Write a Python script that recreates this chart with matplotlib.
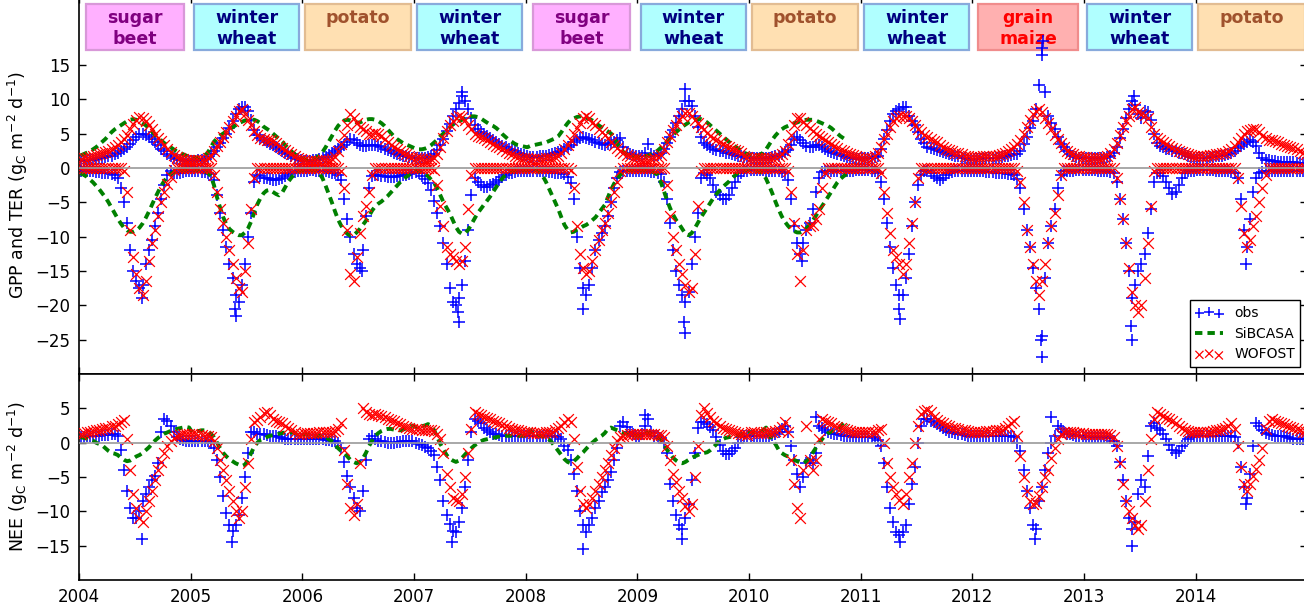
import numpy as np
import matplotlib
matplotlib.use('Agg')
import matplotlib.pyplot as plt
from matplotlib.patches import Rectangle

# crop grown each year (label shown in a box above the season)
years = list(range(2004, 2015))
crops = ['sugar\nbeet', 'winter\nwheat', 'potato', 'winter\nwheat', 'sugar\nbeet',
         'winter\nwheat', 'potato', 'winter\nwheat', 'grain\nmaize', 'winter\nwheat', 'potato']

# fluxes per dekad (3 per month, one row per year), gC m-2 d-1
obs_ter = [
    [1.0, 1.0, 1.1,  1.2, 1.2, 1.3,  1.4, 1.5, 1.6,  1.7, 1.8, 2.0,  2.2, 2.4, 2.7,  3.0, 3.5, 4.0,  4.5, 5.0, 5.0,  4.8, 4.5, 4.2,  3.8, 3.3, 2.8,  2.4, 2.0, 1.7,  1.5, 1.3, 1.2,  1.1, 1.0, 1.0],
    [1.0, 1.0, 1.1,  1.2, 1.3, 1.6,  2.0, 2.5, 3.0,  3.6, 4.3, 5.0,  5.8, 6.8, 7.8,  8.5, 8.8, 8.8,  8.3, 7.0, 5.5,  4.8, 4.3, 4.0,  3.8, 3.5, 3.3,  3.0, 2.7, 2.5,  2.2, 2.0, 1.7,  1.5, 1.3, 1.2],
    [1.0, 1.0, 1.0,  1.1, 1.2, 1.3,  1.4, 1.6, 1.9,  2.2, 2.5, 2.7,  3.0, 3.3, 3.7,  4.2, 4.0, 3.6,  3.3, 3.2, 3.2,  3.3, 3.4, 3.3,  3.2, 3.0, 2.8,  2.6, 2.4, 2.2,  2.0, 1.9, 1.8,  1.7, 1.6, 1.5],
    [1.5, 1.5, 1.5,  1.5, 1.6, 1.7,  2.0, 2.6, 3.3,  4.2, 5.3, 6.4,  7.5, 8.5, 9.5,  10.5, 9.8, 8.5,  7.3, 6.3, 5.6,  5.2, 4.9, 4.6,  4.4, 4.1, 3.8,  3.5, 3.2, 3.0,  2.8, 2.6, 2.4,  2.2, 2.0, 1.9],
    [1.7, 1.6, 1.6,  1.6, 1.7, 1.7,  1.8, 1.9, 2.0,  2.1, 2.3, 2.5,  2.8, 3.1, 3.4,  3.7, 4.0, 4.3,  4.5, 4.4, 4.2,  4.0, 3.8, 3.6,  3.5, 3.4, 3.5,  3.6, 3.8, 4.0,  4.3, 3.0, 2.2,  2.0, 1.9, 1.8],
    [1.8, 1.8, 2.2,  3.5, 2.0, 1.8,  1.9, 2.2, 2.8,  3.6, 4.5, 5.5,  6.5, 7.5, 8.5,  9.8, 9.8, 9.0,  7.5, 6.0, 4.5,  3.6, 3.3, 3.0,  2.8, 2.6, 2.5,  2.4, 2.2, 2.1,  2.0, 1.9, 1.8,  1.7, 1.6, 1.5],
    [1.5, 1.5, 1.4,  1.4, 1.4, 1.5,  1.5, 1.6, 1.7,  1.8, 2.0, 2.3,  2.6, 3.4, 4.2,  4.5, 4.1, 3.6,  3.2, 3.0, 3.1,  3.4, 3.4, 3.1,  2.8, 2.5, 2.3,  2.1, 2.0, 1.9,  1.8, 1.6, 1.5,  1.4, 1.3, 1.3],
    [1.4, 1.4, 1.5,  1.5, 1.6, 1.8,  2.8, 4.2, 5.5,  6.8, 7.8, 8.3,  8.6, 8.9, 8.8,  7.6, 6.8, 6.2,  5.2, 4.2, 3.6,  3.1, 2.9, 2.7,  2.6, 2.5, 2.3,  2.2, 2.0, 1.9,  1.8, 1.7, 1.5,  1.4, 1.3, 1.2],
    [1.3, 1.3, 1.3,  1.4, 1.4, 1.4,  1.5, 1.5, 1.5,  1.6, 1.7, 1.8,  1.9, 2.0, 2.0,  2.4, 3.5, 4.5,  5.8, 6.8, 8.5,  12.0, 17.5, 11.0,  7.5, 6.5, 5.7,  4.5, 3.5, 3.0,  2.5, 2.0, 1.8,  1.6, 1.5, 1.5],
    [1.4, 1.4, 1.4,  1.4, 1.5, 1.5,  1.5, 1.6, 1.8,  2.2, 3.0, 4.3,  5.6, 7.2, 8.6,  9.8, 9.2, 7.8,  7.3, 8.3, 8.2,  7.0, 5.0, 3.6,  3.2, 3.0, 2.8,  2.7, 2.5, 2.4,  2.2, 2.1, 2.0,  1.8, 1.6, 1.5],
    [1.5, 1.5, 1.5,  1.5, 1.6, 1.6,  1.7, 1.7, 1.8,  1.9, 2.0, 2.2,  2.5, 2.9, 3.2,  3.5, 3.8, 4.0,  3.8, 3.2, 2.2,  1.5, 1.2, 1.1,  1.0, 1.0, 0.9,  0.9, 0.9, 0.8,  0.8, 0.8, 0.7,  0.7, 0.7, 0.7],
]
obs_gpp = [
    [-0.5, -0.5, -0.5,  -0.4, -0.5, -0.6,  -0.6, -0.7, -0.8,  -0.8, -0.9, -1.0,  -1.5, -3.0, -5.0,  -8.0, -12.0, -15.0,  -16.5, -17.5, -17.0,  -14.0, -12.0, -10.5,  -8.5, -6.5, -4.5,  -2.5, -1.0, -0.5,  -0.8, -0.8, -0.7,  -0.6, -0.5, -0.5],
    [-0.5, -0.5, -0.5,  -0.6, -0.6, -0.7,  -0.9, -1.8, -4.0,  -6.5, -9.0, -11.5,  -14.0, -16.0, -18.5,  -19.5, -17.0, -14.0,  -10.0, -6.5, -2.0,  -1.0, -1.2, -1.5,  -1.5, -1.6, -1.8,  -1.8, -1.6, -1.5,  -1.2, -0.9, -0.7,  -0.6, -0.5, -0.5],
    [-0.4, -0.4, -0.3,  -0.3, -0.4, -0.4,  -0.5, -0.5, -0.6,  -0.7, -0.8, -1.0,  -1.8, -4.5, -7.5,  -10.0, -12.5, -14.0,  -14.5, -12.0, -7.0,  -3.0, -1.2, -1.0,  -1.1, -1.2, -1.2,  -1.3, -1.3, -1.3,  -1.2, -1.2, -1.1,  -1.0, -0.9, -0.8],
    [-0.6, -0.8, -1.2,  -1.6, -2.2, -3.2,  -4.8, -6.5, -8.5,  -11.0, -14.0, -17.5,  -19.5, -20.0, -19.0,  -17.0, -13.5, -9.0,  -4.0, -1.5, -2.0,  -2.5, -2.8, -2.8,  -2.5, -2.3, -2.0,  -1.7, -1.3, -1.0,  -0.8, -0.7, -0.6,  -0.5, -0.5, -0.5],
    [-0.4, -0.4, -0.4,  -0.4, -0.5, -0.5,  -0.5, -0.6, -0.6,  -0.7, -0.7, -0.8,  -0.9, -1.3, -2.2,  -4.5, -10.0, -14.5,  -17.5, -18.5, -17.0,  -14.5, -12.0, -10.5,  -9.5, -8.5, -7.0,  -5.0, -3.0, -1.5,  -0.6, -0.5, -0.5,  -0.5, -0.5, -0.5],
    [-0.5, -0.5, -0.5,  -0.5, -0.6, -0.6,  -0.7, -0.9, -2.0,  -4.5, -8.0, -12.0,  -15.0, -17.0, -18.5,  -19.5, -18.0, -14.0,  -10.0, -6.5, -1.5,  -0.8, -1.0, -1.5,  -2.5, -3.5, -4.0,  -4.5, -4.5, -4.0,  -3.0, -2.0, -1.2,  -0.7, -0.5, -0.5],
    [-0.3, -0.3, -0.3,  -0.3, -0.3, -0.4,  -0.4, -0.4, -0.5,  -0.5, -0.6, -0.8,  -1.8, -4.5, -8.5,  -11.0, -12.5, -11.0,  -9.0, -8.0, -6.0,  -3.5, -1.5, -0.6,  -0.5, -0.5, -0.5,  -0.5, -0.5, -0.5,  -0.4, -0.4, -0.4,  -0.4, -0.3, -0.3],
    [-0.3, -0.3, -0.3,  -0.4, -0.5, -0.8,  -2.0, -4.5, -8.0,  -11.5, -14.5, -17.0,  -18.5, -18.5, -16.0,  -12.5, -8.5, -5.0,  -2.5, -1.0, -0.5,  -0.5, -0.8, -1.2,  -1.5, -1.8, -1.5,  -1.0, -0.8, -0.6,  -0.5, -0.5, -0.4,  -0.4, -0.4, -0.4],
    [-0.5, -0.5, -0.5,  -0.5, -0.6, -0.6,  -0.6, -0.7, -0.7,  -0.8, -0.8, -0.9,  -0.9, -1.0, -1.6,  -3.0, -6.0, -9.0,  -11.5, -14.5, -17.5,  -20.5, -24.5, -16.0,  -11.0, -8.5, -6.0,  -3.0, -1.0, -0.5,  -0.4, -0.4, -0.4,  -0.3, -0.3, -0.3],
    [-0.3, -0.3, -0.3,  -0.3, -0.4, -0.4,  -0.4, -0.5, -0.6,  -0.8, -2.0, -4.5,  -7.5, -11.0, -15.0,  -19.0, -17.0, -15.0,  -14.0, -12.5, -9.5,  -6.0, -2.0, -0.7,  -0.8, -1.2, -2.0,  -3.0, -3.8, -3.5,  -2.5, -1.5, -0.8,  -0.5, -0.4, -0.4],
    [-0.3, -0.3, -0.3,  -0.3, -0.3, -0.3,  -0.4, -0.4, -0.4,  -0.5, -0.5, -0.6,  -0.8, -1.5, -4.5,  -9.0, -11.5, -7.5,  -3.5, -1.5, -0.8,  -0.6, -0.5, -0.5,  -0.5, -0.5, -0.5,  -0.5, -0.5, -0.5,  -0.5, -0.5, -0.5,  -0.5, -0.5, -0.5],
]
wof_ter = [
    [1.3, 1.4, 1.5,  1.6, 1.7, 1.9,  2.0, 2.2, 2.3,  2.5, 2.7, 3.0,  3.3, 3.7, 4.2,  4.8, 5.6, 6.4,  7.0, 7.4, 7.3,  6.8, 6.2, 5.6,  5.0, 4.4, 3.9,  3.3, 2.8, 2.3,  1.9, 1.6, 1.4,  1.3, 1.2, 1.2],
    [1.2, 1.1, 1.1,  1.1, 1.2, 1.4,  1.8, 2.5, 3.2,  3.8, 4.5, 5.2,  6.0, 6.8, 7.6,  8.3, 8.5, 7.8,  7.0, 6.2, 5.4,  4.8, 4.4, 4.2,  4.0, 4.1, 3.9,  3.6, 3.2, 2.9,  2.6, 2.3, 2.0,  1.7, 1.5, 1.3],
    [1.1, 1.0, 1.0,  1.0, 1.0, 1.0,  1.1, 1.1, 1.2,  1.3, 1.6, 2.5,  3.5, 4.8, 6.3,  7.8, 7.3, 6.5,  6.0, 5.6, 5.3,  5.0, 5.0, 5.1,  5.0, 4.6, 4.2,  3.8, 3.4, 3.1,  2.8, 2.5, 2.2,  2.0, 1.8, 1.6],
    [1.5, 1.4, 1.3,  1.2, 1.2, 1.3,  1.5, 2.0, 3.0,  4.3, 5.4, 6.2,  6.8, 7.2, 7.5,  7.4, 7.0, 6.3,  5.6, 5.0, 4.7,  4.5, 4.3, 4.0,  3.8, 3.5, 3.2,  3.0, 2.7, 2.4,  2.2, 2.0, 1.8,  1.6, 1.5, 1.4],
    [1.4, 1.3, 1.3,  1.3, 1.3, 1.3,  1.4, 1.4, 1.5,  1.6, 1.8, 2.2,  2.8, 3.4, 4.1,  4.9, 5.8, 6.6,  7.2, 7.5, 7.2,  6.6, 6.2, 5.7,  5.2, 4.8, 4.3,  3.8, 3.4, 2.9,  2.5, 2.1, 1.9,  1.7, 1.5, 1.4],
    [1.3, 1.2, 1.2,  1.2, 1.3, 1.4,  1.6, 1.9, 2.8,  3.8, 4.6, 5.5,  6.2, 7.0, 7.6,  8.0, 8.0, 7.5,  7.0, 6.5, 6.0,  5.6, 5.1, 4.7,  4.4, 4.1, 3.8,  3.5, 3.2, 3.0,  2.8, 2.6, 2.4,  2.1, 1.8, 1.6],
    [1.5, 1.5, 1.4,  1.4, 1.4, 1.4,  1.5, 1.5, 1.6,  1.8, 2.0, 2.5,  3.5, 4.8, 6.2,  7.3, 7.2, 6.7,  6.2, 5.8, 5.3,  4.9, 4.6, 4.4,  4.1, 3.8, 3.5,  3.2, 2.9, 2.6,  2.4, 2.2, 2.0,  1.9, 1.7, 1.6],
    [1.5, 1.5, 1.5,  1.5, 1.7, 2.1,  3.0, 4.2, 5.0,  5.9, 6.8, 7.2,  7.5, 7.6, 7.5,  7.2, 6.8, 6.2,  5.7, 5.2, 4.8,  4.5, 4.2, 3.9,  3.7, 3.4, 3.1,  2.8, 2.6, 2.4,  2.2, 2.1, 2.0,  1.8, 1.7, 1.6],
    [1.6, 1.6, 1.6,  1.7, 1.7, 1.7,  1.8, 1.8, 1.9,  2.0, 2.2, 2.5,  2.8, 3.1, 3.5,  4.0, 5.0, 6.0,  7.0, 7.8, 8.3,  8.5, 8.2, 7.3,  6.5, 5.6, 4.8,  4.2, 3.6, 3.0,  2.5, 2.2, 2.0,  1.8, 1.7, 1.6],
    [1.6, 1.5, 1.5,  1.5, 1.5, 1.5,  1.6, 1.8, 2.2,  2.8, 3.6, 4.8,  5.9, 6.8, 7.6,  8.5, 8.8, 8.2,  7.9, 7.7, 7.2,  6.0, 5.0, 4.4,  4.0, 3.8, 3.5,  3.2, 2.9, 2.7,  2.5, 2.3, 2.1,  2.0, 1.9, 1.8],
    [1.8, 1.8, 1.8,  1.8, 1.9, 1.9,  2.0, 2.0, 2.1,  2.2, 2.4, 2.7,  3.2, 3.7, 4.4,  5.0, 5.3, 5.5,  5.6, 5.7, 5.2,  4.6, 4.3, 4.1,  4.0, 3.9, 3.7,  3.5, 3.4, 3.2,  3.0, 2.9, 2.7,  2.5, 2.2, 2.0],
]
wof_gpp = [
    [0, 0, 0,  0, 0, 0,  0, 0, 0,  0, 0, 0,  0, 0, -0.5,  -3.5, -9.0, -13.0,  -15.5, -17.5, -18.5,  -16.5, -13.5, -11.0,  -9.0, -7.0, -5.0,  -3.5, -2.3, -1.3,  -0.3, 0, 0,  0, 0, 0],
    [0, 0, 0,  0, 0, 0,  0, -1.0, -3.5,  -6.0, -8.0, -10.0,  -12.0, -14.0, -16.0,  -17.5, -18.0, -15.0,  -11.0, -6.0, -1.5,  0, 0, 0,  0, 0, 0,  0, 0, 0,  0, 0, 0,  0, 0, 0],
    [0, 0, 0,  0, 0, 0,  0, 0, 0,  0, 0, 0,  -0.5, -3.0, -9.0,  -15.5, -16.5, -13.0,  -9.5, -7.0, -5.5,  -3.5, -1.0, 0,  0, 0, 0,  0, 0, 0,  0, 0, 0,  0, 0, 0],
    [0, 0, 0,  0, 0, 0,  -0.3, -2.5, -5.5,  -8.5, -11.5, -12.5,  -13.0, -13.5, -14.0,  -13.5, -11.5, -6.0,  -1.0, 0, 0,  0, 0, 0,  0, 0, 0,  0, 0, 0,  0, 0, 0,  0, 0, 0],
    [0, 0, 0,  0, 0, 0,  0, 0, 0,  0, 0, 0,  0, 0, -0.3,  -3.0, -8.5, -12.5,  -14.5, -15.5, -15.0,  -13.5, -12.0, -10.5,  -9.0, -8.0, -6.5,  -5.0, -3.5, -2.0,  -0.5, 0, 0,  0, 0, 0],
    [0, 0, 0,  0, 0, 0,  0, 0, 0,  -2.5, -7.0, -10.0,  -12.0, -14.0, -15.5,  -17.0, -18.0, -17.5,  -12.5, -5.5, -0.5,  0, 0, 0,  0, 0, 0,  0, 0, 0,  0, 0, 0,  0, 0, 0],
    [0, 0, 0,  0, 0, 0,  0, 0, 0,  0, 0, 0,  -0.5, -3.5, -8.0,  -12.5, -16.5, -12.0,  -9.0, -8.5, -8.3,  -7.5, -6.0, -3.0,  -0.8, 0, 0,  0, 0, 0,  0, 0, 0,  0, 0, 0],
    [0, 0, 0,  0, 0, 0,  -0.8, -3.5, -6.5,  -9.5, -12.0, -13.0,  -14.0, -15.5, -14.0,  -11.0, -8.0, -5.0,  -1.5, 0, 0,  0, 0, 0,  0, 0, 0,  0, 0, 0,  0, 0, 0,  0, 0, 0],
    [0, 0, 0,  0, 0, 0,  0, 0, 0,  0, 0, 0,  0, 0, -0.5,  -2.0, -5.0, -9.0,  -11.5, -14.0, -16.5,  -18.5, -16.5, -14.0,  -11.0, -8.5, -6.5,  -4.0, -1.0, 0,  0, 0, 0,  0, 0, 0],
    [0, 0, 0,  0, 0, 0,  0, 0, 0,  0, -1.5, -4.5,  -7.5, -11.0, -14.5,  -18.0, -20.0, -21.0,  -20.0, -16.0, -11.0,  -5.5, -0.5, 0,  0, 0, 0,  0, 0, 0,  0, 0, 0,  0, 0, 0],
    [0, 0, 0,  0, 0, 0,  0, 0, 0,  0, 0, 0,  0, -1.5, -5.5,  -9.5, -11.5, -10.5,  -8.5, -7.0, -5.0,  -3.0, -1.0, 0,  0, 0, 0,  0, 0, 0,  0, 0, 0,  0, 0, 0],
]
# SiBCASA run stops in November 2010
sib_ter = [
    [1.8, 2.0, 2.2,  2.4, 2.7, 3.0,  3.4, 3.8, 4.2,  4.7, 5.2, 5.6,  5.9, 6.2, 6.5,  6.8, 7.0, 7.1,  7.0, 6.8, 6.5,  6.2, 5.8, 5.3,  4.8, 4.4, 4.0,  3.6, 3.3, 3.0,  2.7, 2.4, 2.2,  2.0, 1.8, 1.6],
    [1.5, 1.5, 1.5,  1.6, 1.8, 2.2,  3.0, 3.8, 4.3,  4.7, 5.0, 5.3,  5.6, 5.9, 6.2,  6.5, 6.7, 6.9,  7.0, 7.0, 7.0,  6.8, 6.5, 6.0,  5.7, 5.4, 5.0,  4.6, 4.2, 3.8,  3.3, 2.8, 2.4,  2.0, 1.7, 1.5],
    [1.3, 1.2, 1.2,  1.3, 1.5, 1.8,  2.3, 3.0, 3.8,  4.6, 5.4, 6.1,  6.6, 6.9, 7.0,  6.9, 6.7, 6.6,  6.6, 6.8, 7.0,  7.1, 7.1, 7.0,  6.8, 6.5, 6.1,  5.6, 5.1, 4.6,  4.2, 3.9, 3.6,  3.4, 3.2, 3.0],
    [2.8, 2.7, 2.7,  2.8, 3.0, 3.3,  3.7, 4.1, 4.6,  5.0, 5.5, 5.9,  6.3, 6.6, 6.8,  7.0, 7.2, 7.4,  7.5, 7.5, 7.4,  7.2, 6.9, 6.6,  6.3, 6.1, 5.8,  5.4, 4.9, 4.5,  4.1, 3.8, 3.5,  3.3, 3.2, 3.1],
    [3.0, 3.2, 3.3,  3.4, 3.5, 3.6,  3.7, 3.9, 4.1,  4.3, 4.6, 5.2,  5.9, 6.5, 7.0,  7.2, 7.4, 7.5,  7.5, 7.3, 7.1,  6.9, 6.6, 6.2,  5.9, 5.6, 5.3,  5.0, 4.4, 3.6,  2.8, 2.3, 2.0,  1.8, 1.7, 1.6],
    [1.6, 1.6, 1.7,  1.8, 2.0, 2.2,  2.5, 2.9, 3.3,  3.8, 4.3, 4.8,  5.2, 5.6, 6.0,  6.3, 6.6, 6.8,  7.0, 7.1, 7.1,  6.9, 6.6, 6.2,  5.8, 5.4, 5.0,  4.6, 4.2, 3.8,  3.4, 3.1, 2.8,  2.5, 2.2, 2.0],
    [1.9, 1.8, 1.8,  1.9, 2.2, 2.7,  3.4, 4.1, 4.7,  5.2, 5.6, 5.9,  6.1, 6.3, 6.5,  6.6, 6.8, 6.9,  7.0, 7.0, 7.0,  6.9, 6.7, 6.5,  6.3, 6.1, 5.8,  5.4, 5.0, 4.6,  4.3, 4.0],
]
sib_gpp = [
    [-0.8, -1.0, -1.3,  -1.7, -2.1, -2.6,  -3.1, -3.7, -4.3,  -5.0, -5.8, -6.6,  -7.4, -8.1, -8.7,  -9.1, -9.3, -9.3,  -9.1, -8.7, -8.1,  -7.3, -6.4, -5.4,  -4.4, -3.5, -2.6,  -1.9, -1.3, -0.9,  -0.6, -0.4, -0.3,  -0.3, -0.3, -0.3],
    [-0.3, -0.3, -0.3,  -0.4, -0.5, -0.7,  -1.2, -2.5, -4.3,  -5.8, -7.2, -8.2,  -8.9, -9.3, -9.6,  -9.8, -9.8, -9.4,  -8.8, -7.8, -6.5,  -5.3, -4.4, -3.7,  -3.3, -3.2, -3.5,  -3.8, -4.0, -3.6,  -2.8, -2.0, -1.4,  -0.9, -0.6, -0.4],
    [-0.3, -0.3, -0.3,  -0.3, -0.4, -0.8,  -1.5, -2.6, -3.8,  -5.0, -6.3, -7.5,  -8.4, -9.1, -9.6,  -9.9, -9.8, -9.4,  -8.9, -8.3, -7.7,  -7.0, -6.2, -5.6,  -5.2, -4.9, -4.5,  -4.1, -3.6, -3.1,  -2.6, -2.1, -1.7,  -1.3, -1.0, -0.7],
    [-0.4, -0.5, -0.6,  -0.8, -1.2, -1.7,  -2.2, -3.0, -4.0,  -5.0, -5.8, -6.6,  -7.6, -8.6, -9.3,  -9.6, -9.5, -9.0,  -8.2, -7.4, -6.6,  -6.0, -5.4, -4.8,  -4.2, -3.5, -2.8,  -2.1, -1.5, -1.0,  -0.7, -0.5, -0.4,  -0.3, -0.3, -0.3],
    [-0.3, -0.3, -0.3,  -0.4, -0.6, -1.2,  -2.0, -3.0, -4.0,  -5.0, -6.0, -7.2,  -8.3, -9.0, -9.4,  -9.3, -9.0, -8.8,  -8.5, -8.3, -8.0,  -7.6, -7.2, -6.6,  -6.0, -5.4, -4.3,  -3.2, -2.3, -1.6,  -1.0, -0.6, -0.4,  -0.3, -0.3, -0.3],
    [-0.3, -0.3, -0.3,  -0.4, -0.5, -0.7,  -1.0, -2.0, -3.3,  -4.6, -5.8, -6.8,  -7.6, -8.2, -8.9,  -9.6, -9.8, -9.5,  -8.8, -8.0, -7.2,  -6.5, -5.8, -5.1,  -4.4, -3.8, -3.3,  -2.8, -2.4, -2.0,  -1.5, -1.1, -0.7,  -0.5, -0.4, -0.3],
    [-0.3, -0.3, -0.4,  -0.5, -0.8, -1.6,  -2.6, -3.7, -4.9,  -6.0, -7.0, -7.8,  -8.4, -8.9, -9.2,  -9.4, -9.4, -9.2,  -8.8, -8.3, -7.7,  -7.0, -6.3, -5.6,  -4.9, -4.2, -3.5,  -2.8, -2.1, -1.6,  -1.2, -0.9],
]
obs_nee = [
    [0.8, 0.8, 0.9,  0.9, 1.0, 1.0,  1.0, 1.1, 1.1,  1.1, 1.2, 1.2,  1.0, -1.0, -4.0,  -7.0, -9.5, -11.0,  -11.0, -10.0, -8.5,  -7.5, -6.5, -5.5,  -4.8, -3.0, 1.5,  3.5, 3.2, 2.5,  1.5, 0.8, 0.5,  0.4, 0.3, 0.3],
    [0.3, 0.3, 0.3,  0.3, 0.3, 0.2,  0.0, -0.8, -2.5,  -5.0, -7.8, -10.3,  -12.0, -12.8, -12.0,  -10.5, -8.0, -5.0,  -1.5, 1.5, 1.5,  1.3, 1.2, 1.2,  1.1, 1.0, 1.0,  0.9, 0.8, 0.7,  0.6, 0.5, 0.5,  0.5, 0.5, 0.5],
    [0.5, 0.5, 0.5,  0.5, 0.5, 0.5,  0.5, 0.4, 0.4,  0.3, 0.2, 0.0,  -0.8, -2.8, -4.8,  -6.5, -8.0, -9.5,  -10.0, -7.0, -2.5,  0.5, 1.0, 0.5,  0.3, 0.2, 0.1,  0.0, 0.0, 0.0,  0.1, 0.1, 0.2,  0.2, 0.2, 0.2],
    [0.0, -0.2, -0.4,  -0.6, -0.8, -1.2,  -1.8, -3.5, -5.5,  -8.5, -10.5, -11.8,  -12.8, -13.0, -11.5,  -9.5, -6.5, -2.5,  1.5, 3.5, 3.2,  2.8, 2.2, 1.8,  1.5, 1.3, 1.2,  1.1, 1.0, 1.0,  0.9, 0.9, 0.9,  0.9, 0.9, 0.9],
    [1.0, 1.0, 1.0,  1.0, 1.0, 1.0,  1.0, 1.0, 1.0,  0.9, 0.8, 0.5,  -0.5, -1.0, -2.5,  -4.5, -7.0, -10.0,  -12.0, -13.0, -12.0,  -11.0, -9.5, -8.5,  -7.2, -6.5, -5.5,  -4.2, -2.5, -0.8,  2.5, 3.0, 2.3,  1.6, 1.2, 1.0],
    [1.0, 1.2, 2.5,  3.5, 1.5, 1.0,  1.0, 0.7, 0.0,  -1.5, -6.0, -8.5,  -10.5, -12.0, -12.5,  -11.0, -9.0, -5.5,  -1.5, 2.2, 3.0,  3.0, 2.7, 2.3,  1.8, 0.8, -0.3,  -1.2, -1.6, -1.6,  -1.2, -0.8, 0.0,  0.8, 1.0, 1.0],
    [1.0, 1.0, 1.0,  1.0, 1.0, 1.0,  1.0, 1.1, 1.2,  1.5, 2.0, 2.5,  1.5, -0.5, -2.5,  -4.5, -6.5, -5.0,  -3.0, -2.5, -3.0,  -1.5, 2.5, 2.2,  1.8, 1.6, 1.4,  1.3, 1.2, 1.1,  1.0, 1.0, 0.9,  0.9, 0.8, 0.8],
    [0.8, 0.8, 0.8,  0.8, 0.7, 0.4,  -0.5, -3.0, -6.5,  -9.5, -11.5, -13.0,  -13.5, -13.0, -12.0,  -9.0, -6.0, -3.5,  0.0, 2.5, 3.5,  3.5, 3.2, 3.0,  2.7, 2.4, 2.1,  1.8, 1.6, 1.5,  1.4, 1.3, 1.2,  1.1, 1.0, 1.0],
    [1.0, 1.0, 1.0,  1.0, 1.0, 1.0,  1.0, 1.0, 1.0,  1.0, 1.0, 1.0,  1.0, 0.8, 0.0,  -1.2, -4.0, -7.0,  -9.5, -12.0, -12.5,  -8.5, -6.5, -4.0,  -1.5, 0.0, 1.0,  2.5, 2.0, 1.5,  1.3, 1.2, 1.1,  1.0, 1.0, 1.0],
    [0.8, 0.8, 0.8,  0.8, 0.8, 0.8,  0.8, 0.8, 0.7,  0.3, -0.5, -2.8,  -5.5, -8.5, -11.0,  -12.5, -11.5, -7.5,  -5.5, -6.5, -2.0,  2.5, 2.8, 2.2,  1.8, 1.2, 0.5,  -0.3, -1.0, -1.5,  -1.2, -0.5, 0.0,  0.5, 0.8, 1.0],
    [1.0, 1.0, 1.0,  1.0, 1.0, 1.0,  1.0, 1.0, 1.0,  1.0, 1.0, 1.0,  0.8, 0.0, -3.5,  -6.5, -8.0, -4.5,  -0.5, 2.8, 2.5,  1.8, 1.4, 1.2,  1.1, 1.0, 1.0,  1.0, 0.9, 0.8,  0.7, 0.6, 0.6,  0.5, 0.5, 0.5],
]
wof_nee = [
    [1.3, 1.4, 1.5,  1.6, 1.7, 1.8,  1.9, 2.0, 2.1,  2.2, 2.4, 2.5,  2.7, 3.0, 3.3,  0.5, -4.0, -7.5,  -9.5, -11.0, -11.5,  -10.0, -8.5, -7.0,  -5.5, -4.0, -2.8,  -1.5, -0.5, 0.3,  0.7, 1.0, 1.1,  1.2, 1.2, 1.2],
    [1.2, 1.2, 1.1,  1.1, 1.0, 1.0,  0.8, 0.2, -0.8,  -2.5, -4.0, -5.5,  -7.0, -8.5, -10.0,  -11.0, -10.0, -6.5,  -3.0, 0.5, 3.0,  3.3, 3.8, 4.3,  4.5, 4.0, 3.5,  3.2, 3.0, 2.8,  2.5, 2.2, 1.8,  1.5, 1.3, 1.2],
    [1.4, 1.4, 1.4,  1.4, 1.4, 1.5,  1.5, 1.5, 1.6,  1.6, 1.7, 2.0,  2.8, -1.0, -6.0,  -9.5, -10.5, -9.0,  -3.0, 5.0, 4.5,  4.2, 4.0, 4.2,  4.1, 3.9, 3.7,  3.5, 3.3, 3.1,  2.9, 2.7, 2.5,  2.3, 2.1, 2.0],
    [2.0, 2.0, 1.9,  1.9, 1.8, 1.8,  1.7, 1.3, 0.5,  -1.5, -4.5, -6.5,  -8.0, -8.3, -8.5,  -7.5, -5.0, -1.5,  2.0, 4.5, 4.2,  4.0, 3.8, 3.6,  3.4, 3.2, 3.0,  2.8, 2.6, 2.4,  2.2, 2.0, 1.9,  1.8, 1.7, 1.6],
    [1.5, 1.5, 1.4,  1.4, 1.4, 1.4,  1.5, 1.5, 1.6,  1.8, 2.1, 2.5,  3.0, 3.4, 3.0,  0.5, -3.5, -7.0,  -9.0, -9.5, -9.0,  -8.0, -7.0, -6.0,  -5.0, -4.0, -3.0,  -1.8, -0.8, 0.3,  0.8, 1.0, 1.1,  1.2, 1.2, 1.2],
    [1.2, 1.2, 1.2,  1.2, 1.2, 1.2,  1.1, 1.1, 0.8,  -0.5, -2.5, -4.5,  -5.8, -7.0, -8.0,  -9.2, -10.0, -9.0,  -5.0, -0.5, 4.0,  5.0, 4.3, 3.7,  3.2, 2.8, 2.5,  2.2, 2.0, 1.9,  1.7, 1.5, 1.4,  1.3, 1.2, 1.1],
    [1.5, 1.5, 1.4,  1.4, 1.4, 1.5,  1.5, 1.6, 1.7,  1.9, 2.3, 3.0,  1.5, -2.5, -6.0,  -9.5, -11.0, -4.0,  2.5, -2.5, -4.0,  -2.5, 0.5, 3.5,  3.2, 3.0, 2.8,  2.5, 2.3, 2.1,  2.0, 1.9, 1.7,  1.6, 1.5, 1.5],
    [1.5, 1.5, 1.5,  1.5, 1.6, 1.8,  2.0, 0.0, -3.0,  -5.0, -6.5, -7.5,  -8.3, -9.0, -7.5,  -5.0, -3.0, 0.0,  2.5, 4.2, 4.6,  4.8, 4.5, 3.8,  3.3, 3.0, 2.8,  2.6, 2.4, 2.2,  2.1, 2.0, 1.9,  1.8, 1.7, 1.6],
    [1.6, 1.6, 1.6,  1.6, 1.7, 1.7,  1.7, 1.8, 1.8,  1.9, 2.1, 2.4,  2.8, 3.2, 1.0,  -2.0, -5.0, -7.0,  -8.5, -9.0, -8.8,  -7.8, -6.5, -5.0,  -4.0, -2.2, -0.8,  0.5, 1.3, 1.5,  1.5, 1.5, 1.5,  1.4, 1.4, 1.4],
    [1.3, 1.3, 1.3,  1.3, 1.2, 1.2,  1.2, 1.2, 1.1,  0.8, -0.5, -3.0,  -6.0, -8.5, -10.0,  -11.0, -12.0, -12.5,  -12.0, -8.5, -4.0,  0.5, 3.5, 4.5,  4.2, 3.9, 3.6,  3.4, 3.1, 2.8,  2.4, 2.1, 1.9,  1.7, 1.6, 1.5],
    [1.5, 1.5, 1.5,  1.5, 1.6, 1.7,  1.8, 1.9, 2.0,  2.2, 2.5, 2.8,  2.0, -0.5, -3.5,  -6.0, -7.0, -6.0,  -4.8, -3.8, -2.5,  -0.8, 2.0, 3.2,  3.4, 3.2, 3.0,  2.8, 2.7, 2.5,  2.3, 2.1, 2.0,  1.8, 1.6, 1.5],
]
sib_nee = [
    [0.8, 0.7, 0.6,  0.5, 0.3, 0.0,  -0.2, -0.4, -0.8,  -1.2, -1.5, -1.6,  -1.8, -2.2, -2.5,  -2.7, -2.6, -2.3,  -2.0, -1.8, -1.5,  -1.1, -0.7, -0.2,  0.3, 0.7, 1.0,  1.3, 1.5, 1.7,  1.9, 2.0, 2.1,  2.2, 2.3, 2.2],
    [1.5, 1.6, 1.7,  1.8, 1.8, 1.7,  1.3, 0.8, 0.0,  -0.8, -1.5, -2.0,  -2.4, -2.7, -3.0,  -3.2, -3.4, -3.2,  -2.5, -1.5, -0.6,  0.0, 0.4, 0.6,  0.8, 1.0, 1.1,  1.2, 1.3, 1.4,  1.5, 1.5, 1.5,  1.4, 1.3, 1.2],
    [1.2, 1.2, 1.1,  1.1, 1.0, 1.0,  0.9, 0.8, 0.5,  0.2, -0.3, -0.8,  -1.2, -1.5, -2.0,  -2.5, -2.8, -3.0,  -2.8, -2.3, -1.5,  -0.5, 0.3, 1.0,  1.4, 1.7, 1.9,  2.0, 2.0, 1.9,  1.8, 1.8, 1.9,  2.1, 2.3, 2.5],
    [2.3, 2.3, 2.4,  2.5, 2.7, 2.5,  1.8, 0.8, -0.2,  -1.0, -1.8, -2.3,  -2.6, -2.8, -2.6,  -2.2, -1.7, -1.2,  -0.8, -0.4, -0.1,  0.2, 0.4, 0.5,  0.6, 0.7, 0.8,  0.9, 1.0, 1.0,  1.0, 1.0, 1.0,  1.0, 1.0, 1.0],
    [1.0, 1.8, 1.2,  1.0, 1.0, 0.9,  0.8, 0.5, 0.0,  -0.6, -1.2, -1.8,  -2.4, -2.8, -3.0,  -2.7, -2.3, -1.8,  -1.4, -0.9, -0.4,  0.0, 0.4, 0.7,  1.0, 1.4, 2.0,  2.2, 2.0, 1.8,  1.6, 1.4, 1.3,  1.2, 1.1, 1.0],
    [1.0, 1.0, 1.2,  1.5, 1.2, 1.0,  0.8, 0.5, -0.2,  -1.0, -1.6, -2.2,  -2.6, -2.9, -3.0,  -2.8, -2.5, -2.2,  -2.0, -1.8, -1.6,  -1.5, -1.4, -1.1,  -0.7, -0.2, 0.3,  0.5, 0.7, 0.8,  0.9, 1.0, 1.1,  1.2, 1.3, 1.4],
    [1.5, 1.5, 1.5,  1.6, 1.8, 2.2,  1.2, 0.3, -0.2,  -1.0, -1.5, -1.8,  -2.0, -2.2, -2.5,  -2.7, -2.9, -3.0,  -2.7, -2.3, -1.5,  -0.8, -0.2, 0.5,  1.0, 1.4, 1.6,  1.8, 2.0, 2.3,  3.0, 2.5],
]

# single observed days that stand out from the dekad values
obs_peak_t = [2004.56, 2005.40, 2005.41, 2006.53, 2007.39, 2007.40, 2008.51, 2009.42, 2009.43,
              2010.47, 2011.34, 2011.35, 2012.61, 2012.62, 2013.42, 2013.43, 2014.45,
              2007.43, 2009.43, 2012.625, 2012.63, 2013.45]
obs_peak_v = [-19.0, -20.5, -21.5, -15.0, -21.0, -22.5, -20.5, -22.5, -24.0,
              -13.5, -20.5, -22.0, -25.0, -27.5, -23.0, -25.0, -14.0,
              11.0, 11.5, 16.5, 18.5, 10.5]
nee_peak_t = [2004.56, 2005.37, 2007.34, 2008.51, 2009.40, 2011.35, 2012.56, 2013.43, 2014.45,
              2009.07, 2010.60, 2012.70]
nee_peak_v = [-14.0, -14.5, -14.5, -15.5, -14.0, -14.5, -14.0, -15.0, -9.0,
              4.0, 3.8, 3.7]

crop_colors = {  # text, fill, edge
    'sugar\nbeet': ('#800080', '#ffb0ff', '#d898d8'),
    'winter\nwheat': ('#000080', '#b0ffff', '#88aadc'),
    'potato': ('#a0522d', '#ffe0b2', '#e2bc92'),
    'grain\nmaize': ('#ff0000', '#ffb0b0', '#f08c8c'),
}


def flat(rows, name):
    for i, r in enumerate(rows):
        if len(r) != 36 and i != len(rows) - 1:
            raise ValueError('%s: row %d has %d values' % (name, i, len(r)))
    return np.concatenate([np.asarray(r, float) for r in rows])


series = {}
for name, rows in [('obs_ter', obs_ter), ('obs_gpp', obs_gpp), ('wof_ter', wof_ter),
                   ('wof_gpp', wof_gpp), ('obs_nee', obs_nee), ('wof_nee', wof_nee),
                   ('sib_ter', sib_ter), ('sib_gpp', sib_gpp), ('sib_nee', sib_nee)]:
    series[name] = flat(rows, name)

# dekad mid-points as decimal years
t = 2004 + (np.arange(11 * 36) + 0.5) / 36.0
ts = t[:len(series['sib_ter'])]

W, H = 1304, 610
fig = plt.figure(figsize=(W / 100, H / 100), dpi=100)
ax1 = fig.add_axes([79 / W, 236 / H, 1228.4 / W, 377.9 / H])
ax2 = fig.add_axes([79 / W, 30 / H, 1228.4 / W, 206 / H], sharex=ax1)

obs_kw = dict(marker='+', s=80, c='b', linewidths=1.1, zorder=2)
wof_kw = dict(marker='x', s=60, c='r', linewidths=0.9, zorder=4)
sib_kw = dict(color='g', lw=2.8, dashes=(1.9, 1.3), zorder=3)

h_obs = ax1.scatter(t, series['obs_ter'], **obs_kw)
ax1.scatter(t, series['obs_gpp'], **obs_kw)
ax1.scatter(obs_peak_t, obs_peak_v, **obs_kw)
h_sib, = ax1.plot(ts, series['sib_ter'], **sib_kw)
ax1.plot(ts, series['sib_gpp'], **sib_kw)
h_wof = ax1.scatter(t, series['wof_ter'], **wof_kw)
ax1.scatter(t, series['wof_gpp'], **wof_kw)

ax2.scatter(t, series['obs_nee'], **obs_kw)
ax2.scatter(nee_peak_t, nee_peak_v, **obs_kw)
ax2.plot(ts, series['sib_nee'], **sib_kw)
ax2.scatter(t, series['wof_nee'], **wof_kw)

for ax in (ax1, ax2):
    ax.axhline(0, color='0.6', lw=1.2, zorder=5)
    ax.tick_params(direction='in', top=True, right=True, length=5, width=1,
                   labelsize=12, pad=6)
    for sp in ax.spines.values():
        sp.set_linewidth(1.2)

ax1.set_xlim(2004, 2015)
ax1.set_xticks(years)
ax2.set_xticklabels([str(y) for y in years])
ax1.tick_params(labelbottom=False)
ax1.set_ylim(-30, 25)
ax1.set_yticks(range(-25, 20, 5))
ax2.set_ylim(-20, 10)
ax2.set_yticks(range(-15, 10, 5))

ax1.set_ylabel('GPP and TER (g$_\\mathregular{C}$ m$^{-2}$ d$^{-1}$)', fontsize=12.5)
ax2.set_ylabel('NEE (g$_\\mathregular{C}$ m$^{-2}$ d$^{-1}$)', fontsize=12.5)

ax1.legend([h_obs, h_sib, h_wof], ['obs', 'SiBCASA', 'WOFOST'], loc='lower right',
           fontsize=10, scatterpoints=3, scatteryoffsets=[0.375, 0.5, 0.3125],
           markerscale=0.75, fancybox=False, framealpha=1, edgecolor='k',
           handlelength=2)

# crop labels, then boxes sized around the text
labels = []
for yr, crop in zip(years, crops):
    tc = crop_colors[crop][0]
    labels.append(ax1.text(yr + 0.5, 23.15, crop, ha='center', va='top', fontsize=12.5,
                           fontweight='bold', color=tc, linespacing=1.2, zorder=1.6))
fig.canvas.draw()
inv = ax1.transData.inverted()
box_lo, box_hi = 17.16, 23.86
for txt, crop in zip(labels, crops):
    tc, fc, ec = crop_colors[crop]
    bb = txt.get_window_extent()
    x0 = inv.transform((bb.x0 - 21, 0))[0]
    x1 = inv.transform((bb.x1 + 21, 0))[0]
    ax1.add_patch(Rectangle((x0, box_lo), x1 - x0, box_hi - box_lo, facecolor=fc,
                            edgecolor=ec, lw=1.6, zorder=1))

fig.savefig('out.png', dpi=100)
